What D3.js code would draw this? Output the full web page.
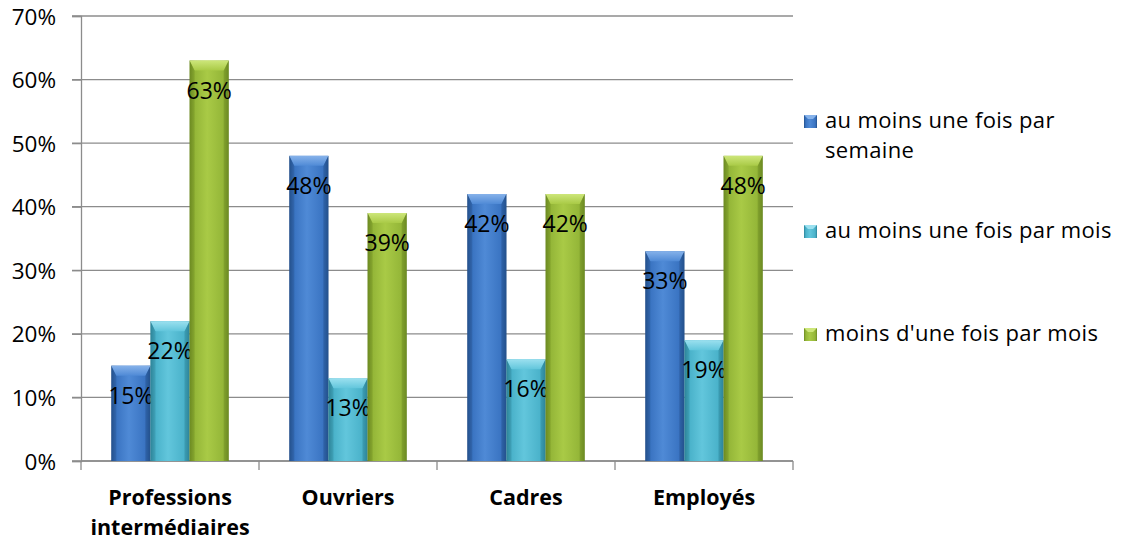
<!DOCTYPE html>
<html>
<head>
<meta charset="utf-8">
<script src="https://cdn.jsdelivr.net/npm/d3@7"></script>
<style>
  html, body { margin: 0; padding: 0; background: #fff; }
  svg { display: block; font-family: "Open Sans", sans-serif; }
</style>
</head>
<body>
<svg id="chart" width="1121" height="540"></svg>
<script>
// Fréquence par catégorie socioprofessionnelle
const categories = ["Professions intermédiaires", "Ouvriers", "Cadres", "Employés"];
const categoryLines = [["Professions", "intermédiaires"], ["Ouvriers"], ["Cadres"], ["Employés"]];
const seriesNames = ["au moins une fois par semaine", "au moins une fois par mois", "moins d'une fois par mois"];
const legendLines = [["au moins une fois par", "semaine"], ["au moins une fois par mois"], ["moins d'une fois par mois"]];
const weekly = [15, 48, 42, 33];
const monthly = [22, 13, 16, 19];
const lessThanMonthly = [63, 39, 42, 48];
const yTicks = [0, 10, 20, 30, 40, 50, 60, 70];

const seriesValues = [weekly, monthly, lessThanMonthly];
const palette = [
  { light: "#4f8ad6", mid: "#3a74c2", dark: "#24518c", cap: "#86b2ea" },
  { light: "#62c6dc", mid: "#4ab2ca", dark: "#2d8499", cap: "#9be0ef" },
  { light: "#a9ca46", mid: "#94b638", dark: "#6c8a22", cap: "#cde67a" }
];

const svg = d3.select("#chart");
const x = d3.scaleBand().domain(categories).range([81, 793]).paddingInner(0).paddingOuter(0);
const groupPad = 0.17;
const xs = d3.scaleBand().domain(d3.range(3)).range([x.bandwidth() * groupPad, x.bandwidth() * (1 - groupPad)]);
const y = d3.scaleLinear().domain([0, 70]).range([461, 16]);

// gradients for the bars
const defs = svg.append("defs");
palette.forEach((p, i) => {
  const g = defs.append("linearGradient").attr("id", "grad" + i)
    .attr("x1", "0%").attr("x2", "100%").attr("y1", "0%").attr("y2", "0%");
  g.append("stop").attr("offset", "0%").attr("stop-color", p.dark);
  g.append("stop").attr("offset", "14%").attr("stop-color", p.mid);
  g.append("stop").attr("offset", "45%").attr("stop-color", p.light);
  g.append("stop").attr("offset", "86%").attr("stop-color", p.mid);
  g.append("stop").attr("offset", "100%").attr("stop-color", p.dark);
  const c = defs.append("linearGradient").attr("id", "cap" + i)
    .attr("x1", "0%").attr("x2", "0%").attr("y1", "0%").attr("y2", "100%");
  c.append("stop").attr("offset", "0%").attr("stop-color", p.cap);
  c.append("stop").attr("offset", "100%").attr("stop-color", p.light);
});

// gridlines
svg.append("g").selectAll("line").data(yTicks).join("line")
  .attr("x1", 72).attr("x2", 793)
  .attr("y1", d => y(d)).attr("y2", d => y(d))
  .attr("stroke", "#8c8c8c").attr("stroke-width", 1.3);

// y axis
const yAxis = svg.append("g").attr("transform", "translate(81,0)")
  .call(d3.axisLeft(y).tickValues(yTicks).tickFormat(d => d + "%").tickSize(9));
yAxis.select(".domain").attr("stroke", "#8c8c8c").attr("stroke-width", 1.3);
yAxis.selectAll(".tick line").attr("stroke", "#8c8c8c").attr("stroke-width", 1.3);
yAxis.selectAll(".tick text").attr("x", -25).attr("dy", "0.36em").attr("font-size", 22.5).attr("fill", "#000")
  .attr("font-family", "'Open Sans', sans-serif");

// x axis
const xAxis = svg.append("g").attr("transform", "translate(0,461)");
xAxis.append("line").attr("x1", 81).attr("x2", 793).attr("stroke", "#8c8c8c").attr("stroke-width", 1.3);
const bounds = categories.map(c => x(c)).concat([793]);
xAxis.selectAll("line.tk").data(bounds).join("line").attr("class", "tk")
  .attr("x1", d => d).attr("x2", d => d).attr("y1", 0).attr("y2", 9)
  .attr("stroke", "#8c8c8c").attr("stroke-width", 1.3);
xAxis.selectAll("text.cat").data(categories).join("text").attr("class", "cat")
  .attr("text-anchor", "middle").attr("font-size", 21.5).attr("font-weight", "bold")
  .attr("transform", d => `translate(${x(d) + x.bandwidth() / 2},0)`)
  .each(function (d, i) {
    d3.select(this).selectAll("tspan").data(categoryLines[i]).join("tspan")
      .attr("x", 0).attr("y", (t, j) => 44 + j * 30).text(t => t);
  });

// bars
const groups = svg.append("g").selectAll("g").data(categories).join("g")
  .attr("transform", d => `translate(${x(d)},0)`);
seriesValues.forEach((vals, s) => {
  groups.each(function (cat, i) {
    const g = d3.select(this);
    const v = vals[i];
    const bx = xs(s), bw = xs.bandwidth(), top = y(v), bot = y(0);
    const cap = 10;
    g.append("rect").attr("x", bx).attr("y", top).attr("width", bw).attr("height", bot - top)
      .attr("fill", `url(#grad${s})`);
    // bevelled top
    g.append("path")
      .attr("d", `M${bx},${top} L${bx + bw},${top} L${bx + bw - 5},${top + cap} L${bx + 5},${top + cap} Z`)
      .attr("fill", `url(#cap${s})`);
    g.append("path")
      .attr("d", `M${bx},${top} L${bx + 5},${top + cap} L${bx + 5},${bot} L${bx},${bot} Z`)
      .attr("fill", palette[s].dark).attr("opacity", 0.3);
    g.append("path")
      .attr("d", `M${bx + bw},${top} L${bx + bw - 5},${top + cap} L${bx + bw - 5},${bot} L${bx + bw},${bot} Z`)
      .attr("fill", palette[s].dark).attr("opacity", 0.4);
    g.append("text").attr("x", bx + bw / 2).attr("y", top + 38)
      .attr("text-anchor", "middle").attr("font-size", 23).attr("fill", "#000")
      .text(v + "%");
  });
});

// legend
const legendY = [128, 238, 341];
const legend = svg.append("g");
seriesNames.forEach((name, s) => {
  const ly = legendY[s];
  legend.append("rect").attr("x", 804).attr("y", ly - 13).attr("width", 13).attr("height", 13)
    .attr("fill", `url(#grad${s})`);
  legend.append("path")
    .attr("d", `M804,${ly - 13} L817,${ly - 13} L813,${ly - 9} L808,${ly - 9} Z`)
    .attr("fill", palette[s].cap);
  const t = legend.append("text").attr("font-size", 22).attr("letter-spacing", 0.35).attr("fill", "#000");
  legendLines[s].forEach((line, j) => {
    t.append("tspan").attr("x", 825).attr("y", ly + j * 30).text(line);
  });
});
</script>
</body>
</html>
